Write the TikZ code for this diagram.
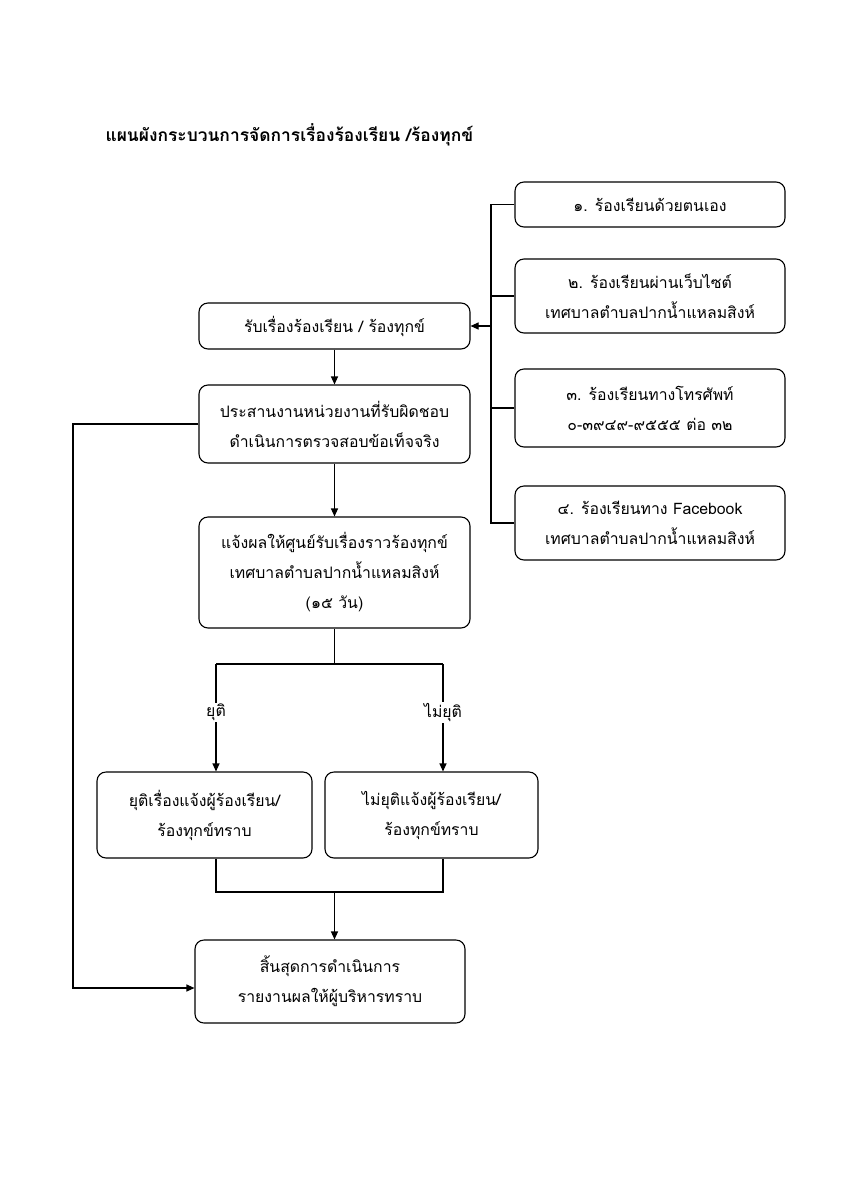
\documentclass[tikz,border=0pt]{standalone}
\usepackage{fontspec}
\newfontfamily\thai[Script=Thai]{Loma}
\usetikzlibrary{arrows.meta}
\begin{document}
\begin{tikzpicture}[x=1pt,y=-1pt,
  box/.style={draw, line width=1.1pt, rounded corners=9pt, align=center, inner sep=0pt, font=\thai\fontsize{15.8}{30}\selectfont},
  conn/.style={line width=1.1pt},
  arr/.style={line width=1.1pt, -{Triangle[length=8pt,width=7pt]}},
  lbl/.style={fill=white, inner sep=1pt, font=\thai\fontsize{15.8}{18}\selectfont}]
\useasboundingbox (0,0) rectangle (848,1200);
\fill[white] (0,0) rectangle (848,1200);
\node[anchor=west, font=\thai\bfseries\fontsize{17.4}{20}\selectfont] (title) at (102,135) {แผนผังกระบวนการจัดการเรื่องร้องเรียน /ร้องทุกข์};
% right column
\node[box, minimum width=270pt, minimum height=45pt] (c1) at (650,204.5) {๑. ร้องเรียนด้วยตนเอง};
\node[box, minimum width=270pt, minimum height=74pt] (c2) at (650,296) {๒. ร้องเรียนผ่านเว็บไซต์\\เทศบาลตำบลปากน้ำแหลมสิงห์};
\node[box, minimum width=270pt, minimum height=78pt] (c3) at (650,408) {๓. ร้องเรียนทางโทรศัพท์\\๐-๓๙๔๙-๙๕๕๕ ต่อ ๓๒};
\node[box, minimum width=270pt, minimum height=74pt] (c4) at (650,523) {๔. ร้องเรียนทาง Facebook\\เทศบาลตำบลปากน้ำแหลมสิงห์};
% main column
\node[box, minimum width=271pt, minimum height=46pt] (rcv) at (334.5,326) {รับเรื่องร้องเรียน / ร้องทุกข์};
\node[box, minimum width=271pt, minimum height=78pt] (coord) at (334.5,424) {ประสานงานหน่วยงานที่รับผิดชอบ\\ดำเนินการตรวจสอบข้อเท็จจริง};
\node[box, minimum width=271pt, minimum height=111pt] (notify) at (334.5,572.5) {แจ้งผลให้ศูนย์รับเรื่องราวร้องทุกข์\\เทศบาลตำบลปากน้ำแหลมสิงห์\\(๑๕ วัน)};
\node[box, minimum width=215pt, minimum height=86pt] (yes) at (204.5,815) {ยุติเรื่องแจ้งผู้ร้องเรียน/\\ร้องทุกข์ทราบ};
\node[box, minimum width=213pt, minimum height=86pt] (no) at (431.5,815) {ไม่ยุติแจ้งผู้ร้องเรียน/\\ร้องทุกข์ทราบ};
\node[box, minimum width=270pt, minimum height=83pt] (end) at (330,981.5) {สิ้นสุดการดำเนินการ\\รายงานผลให้ผู้บริหารทราบ};
% bus
\coordinate (b1) at (491,204.5);
\coordinate (b4) at (491,523);
\coordinate (bm) at (491,326);
\draw[conn] (c1.west) -- (b1) -- (b4) -- (c4.west);
\draw[conn] (c2.west) -- (c2.west -| b1);
\draw[conn] (c3.west) -- (c3.west -| b1);
\draw[arr] (bm) -- (rcv.east);
% main flow
\draw[arr] (rcv.south) -- (coord.north);
\draw[arr] (coord.south) -- (notify.north);
\coordinate (split) at (334.5,664);
\coordinate (sl) at (216,664);
\coordinate (sr) at (443,664);
\draw[conn] (notify.south) -- (split);
\draw[conn] (sl) -- (sr);
\draw[arr] (sl) -- (sl |- yes.north) node[lbl, pos=0.45] (ly) {ยุติ};
\draw[arr] (sr) -- (sr |- no.north) node[lbl, pos=0.45] (ln) {ไม่ยุติ};
\coordinate (jl) at (216,892);
\coordinate (jr) at (443,892);
\coordinate (jm) at (334.5,892);
\draw[conn] (jl |- yes.south) -- (jl) -- (jr) -- (jr |- no.south);
\draw[arr] (jm) -- (jm |- end.north);
% loop
\coordinate (l1) at (73,424);
\coordinate (l2) at (73,988);
\draw[arr] (coord.west) -- (l1) -- (l2) -- (l2 -| end.west);
\end{tikzpicture}
\end{document}
